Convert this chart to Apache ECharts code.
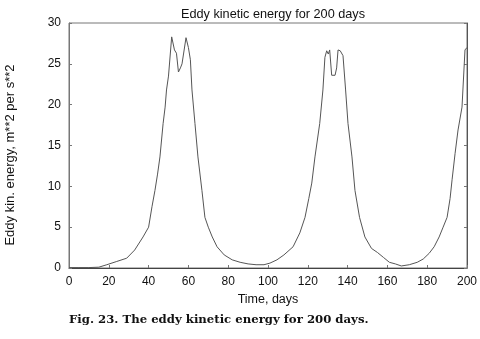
<!DOCTYPE html>
<html>
<head>
<meta charset="utf-8">
<script src="https://cdn.jsdelivr.net/npm/echarts@6/dist/echarts.min.js"></script>
<style>
  html, body { margin: 0; padding: 0; background: #fff; }
  #chart { width: 480px; height: 339px; }
</style>
</head>
<body>
<div id="chart"></div>
<script>
// values
const days = [0, 5, 10, 15, 19, 24, 29, 33, 37.2, 40, 41.7, 43.2, 44.5, 45.7, 47.3, 48.3, 49, 50, 51.6, 53, 54, 55, 56, 56.8, 58.8, 60, 61, 61.8, 63.3, 64.8, 66.8, 68.3, 70, 72, 74.4, 78, 82, 86, 90, 94, 98, 101, 104.5, 108, 112.6, 115, 116, 118.6, 120.5, 122, 123.6, 126, 127.6, 128.6, 129.5, 130.3, 131, 132, 133, 133.7, 134.5, 135.2, 136.3, 137.7, 139, 140.2, 142.2, 143.7, 146, 148.7, 152, 155, 158, 161, 164, 167, 171, 175, 178, 181, 183.5, 186, 188, 190, 191.5, 192.5, 194, 195.5, 197.5, 199, 200]
const energy = [0.05, 0.05, 0.05, 0.1, 0.4, 0.8, 1.2, 2.2, 3.8, 5, 7.5, 9.5, 11.5, 13.6, 17.7, 19.7, 21.8, 23.5, 28.3, 26.7, 26.3, 24, 24.5, 25, 28.2, 27, 25.5, 21.8, 17.7, 13.6, 9.5, 6.2, 5, 3.8, 2.6, 1.6, 1, 0.7, 0.5, 0.4, 0.4, 0.6, 1, 1.6, 2.6, 3.8, 4.3, 6.2, 8.5, 10.4, 13.6, 17.7, 21.8, 25.8, 26.6, 26.2, 26.7, 23.6, 23.8, 23.6, 24.5, 26.7, 26.6, 26, 21.8, 17.7, 13.6, 9.5, 6.2, 3.8, 2.4, 1.9, 1.3, 0.7, 0.5, 0.25, 0.4, 0.7, 1.1, 1.8, 2.6, 3.8, 5, 6.2, 8.5, 10.8, 14, 16.9, 19.7, 26.7, 27]

const points = days.map((d, i) => [d, energy[i]])

const frameColor = '#777'
const labelFont = { color: '#111', fontSize: 12, fontFamily: 'Liberation Sans' }

const chart = echarts.init(document.getElementById('chart'))
chart.setOption({
  animation: false,
  title: {
    text: 'Eddy kinetic energy for 200 days',
    left: 268,
    textAlign: 'center',
    top: 3,
    textStyle: { color: '#111', fontSize: 12.7, fontWeight: 'normal', fontFamily: 'Liberation Sans' }
  },
  grid: { left: 69, right: 13, top: 23, bottom: 71, show: true, borderColor: frameColor, borderWidth: 1 },
  xAxis: [{
    type: 'value',
    min: 0,
    max: 200,
    interval: 20,
    name: 'Time, days',
    nameLocation: 'middle',
    nameGap: 25,
    nameTextStyle: { color: '#111', fontSize: 12.5, fontFamily: 'Liberation Sans' },
    axisLine: { show: true, lineStyle: { color: '#444', width: 1 } },
    axisTick: { show: true, inside: true, length: 3, lineStyle: { color: frameColor } },
    axisLabel: Object.assign({ margin: 8 }, labelFont),
    splitLine: { show: false }
  }],
  yAxis: [{
    type: 'value',
    min: 0,
    max: 30,
    interval: 5,
    axisLine: { show: true, lineStyle: { color: frameColor } },
    axisTick: { show: true, inside: true, length: 3, lineStyle: { color: frameColor } },
    axisLabel: Object.assign({ margin: 8 }, labelFont),
    splitLine: { show: false }
  }, {
    type: 'value',
    position: 'right',
    min: 0,
    max: 30,
    interval: 5,
    axisLine: { show: true, lineStyle: { color: '#555' } },
    axisTick: { show: true, inside: true, length: 3, lineStyle: { color: frameColor } },
    axisLabel: { show: false },
    splitLine: { show: false }
  }],
  graphic: [{
    type: 'text',
    x: 10,
    y: 155,
    rotation: Math.PI / 2,
    style: {
      text: 'Eddy kin. energy, m**2 per s**2',
      fill: '#111',
      font: '13px "Liberation Sans"',
      textAlign: 'center',
      textVerticalAlign: 'middle'
    }
  }, {
    type: 'text',
    x: 69,
    y: 320,
    style: {
      text: 'Fig. 23. The eddy kinetic energy for 200 days.',
      fill: '#111',
      font: 'bold 11.7px "DejaVu Serif"',
      textAlign: 'left',
      textVerticalAlign: 'middle'
    }
  }],
  series: [{
    type: 'line',
    data: points,
    showSymbol: false,
    smooth: false,
    lineStyle: { color: '#555', width: 1 }
  }]
})
</script>
</body>
</html>
